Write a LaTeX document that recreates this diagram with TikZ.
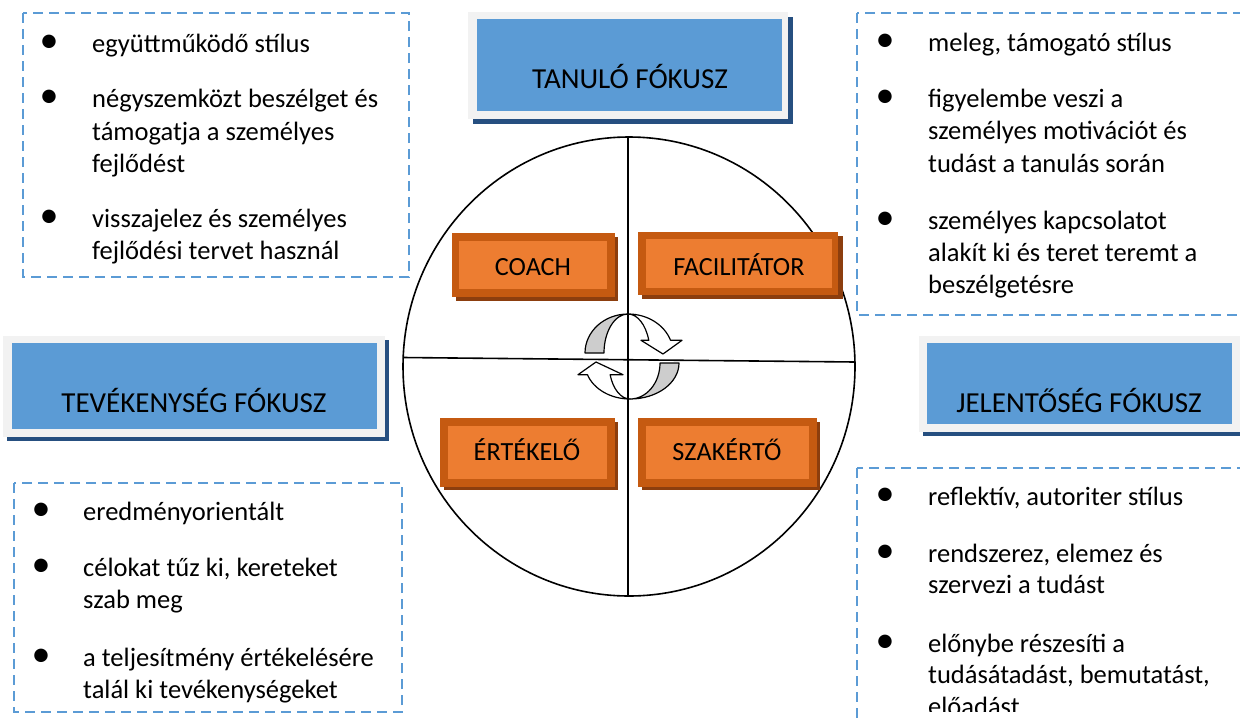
\documentclass[tikz,border=0pt]{standalone}
\usepackage{fontspec}
\setmainfont{Carlito}
\definecolor{bfill}{RGB}{91,155,213}
\definecolor{fgray}{RGB}{242,242,242}
\definecolor{bshadow}{RGB}{38,79,128}
\definecolor{oout}{RGB}{197,90,17}
\definecolor{oin}{RGB}{237,125,49}
\definecolor{oshadow}{RGB}{140,62,14}
\definecolor{dashblue}{RGB}{91,155,213}
\definecolor{agray}{RGB}{205,205,205}
\tikzset{
  dashbox/.style={draw=dashblue, line width=2pt, dash pattern=on 10pt off 6pt},
  txt/.style={anchor=base west, inner sep=0pt, font=\fontsize{26.5}{32}\selectfont},
  bul/.style={anchor=base, inner sep=0pt, font=\fontsize{38}{40}\selectfont},
  hdr/.style={anchor=base, inner sep=0pt, font=\fontsize{29}{35}\selectfont},
  lbl/.style={anchor=base, inner sep=0pt, font=\fontsize{26.2}{31}\selectfont},
  arrowpart/.style={draw=black, line width=1.2pt, line join=round},
  axisline/.style={draw=black, line width=1.6pt}
}
\begin{document}
\begin{tikzpicture}[x=1pt,y=-1pt]
\useasboundingbox (0,0) rectangle (1240,718);
\clip (0,0) rectangle (1240,718);

% circle and axes
\draw[axisline] (629,366.5) ellipse [x radius=226, y radius=229.5];
\coordinate (vtop) at (628,137);
\coordinate (vbot) at (628,596);
\coordinate (hleft) at (403,357.5);
\coordinate (hright) at (855,362);
\draw[axisline] (vtop) -- (vbot);
\draw[axisline] (hleft) -- (hright);

% dashed boxes
\draw[dashbox] (23,13) rectangle (409,277);
\draw[dashbox] (857,13) rectangle (1252,315);
\draw[dashbox] (14,483) rectangle (402,712);
\draw[dashbox] (857,468) rectangle (1252,740);

% top-left list
\node[bul] (b11) at (49,52) {•};
\node[txt] (t11) at (92,52) {együttműködő stílus};
\node[bul] (b12) at (49,107) {•};
\node[txt] (t12) at (92,107) {négyszemközt beszélget és};
\node[txt] (t13) at (92,140) {támogatja a személyes};
\node[txt] (t14) at (92,172) {fejlődést};
\node[bul] (b13) at (49,227) {•};
\node[txt] (t15) at (92,227) {visszajelez és személyes};
\node[txt] (t16) at (92,259) {fejlődési tervet használ};

% top-right list
\node[bul] (b21) at (885,51) {•};
\node[txt] (t21) at (928,51) {meleg, támogató stílus};
\node[bul] (b22) at (885,107) {•};
\node[txt] (t22) at (928,107) {figyelembe veszi a};
\node[txt] (t23) at (928,139) {személyes motivációt és};
\node[txt] (t24) at (928,172) {tudást a tanulás során};
\node[bul] (b23) at (885,229) {•};
\node[txt] (t25) at (928,229) {személyes kapcsolatot};
\node[txt] (t26) at (928,261) {alakít ki és teret teremt a};
\node[txt] (t27) at (928,293) {beszélgetésre};

% bottom-left list
\node[bul] (b31) at (41,520) {•};
\node[txt] (t31) at (83,520) {eredményorientált};
\node[bul] (b32) at (41,576) {•};
\node[txt] (t32) at (83,576) {célokat tűz ki, kereteket};
\node[txt] (t33) at (83,608) {szab meg};
\node[bul] (b33) at (41,666) {•};
\node[txt] (t34) at (83,666) {a teljesítmény értékelésére};
\node[txt] (t35) at (83,698) {talál ki tevékenységeket};

% bottom-right list
\node[bul] (b41) at (885,505) {•};
\node[txt] (t41) at (928,505) {reflektív, autoriter stílus};
\node[bul] (b42) at (885,562) {•};
\node[txt] (t42) at (928,562) {rendszerez, elemez és};
\node[txt] (t43) at (928,593) {szervezi a tudást};
\node[bul] (b43) at (885,652) {•};
\node[txt] (t44) at (928,652) {előnybe részesíti a};
\node[txt] (t45) at (928,683) {tudásátadást, bemutatást,};
\begin{scope}
\clip (860,690) rectangle (1240,711);
\node[txt] (t46) at (928,715) {előadást};
\end{scope}

% blue headers
\fill[bshadow] (473,17) rectangle (793,124);
\fill[fgray] (468,12) rectangle (788,119);
\fill[bfill] (477,19) rectangle (782,111);
\node[hdr] (h1) at (630,88) {TANULÓ FÓKUSZ};

\fill[bshadow] (7,340) rectangle (389,441);
\fill[fgray] (3,336) rectangle (385,437);
\fill[bfill] (12,343) rectangle (377,429);
\node[hdr] (h2) at (194,412) {TEVÉKENYSÉG FÓKUSZ};

\fill[bshadow] (923,340) rectangle (1256,436);
\fill[fgray] (919,336) rectangle (1250,432);
\fill[bfill] (927,343) rectangle (1232,424);
\node[hdr] (h3) at (1079,412) {JELENTŐSÉG FÓKUSZ};

% orange role boxes
\fill[oshadow] (456,237) rectangle (618,301);
\fill[oout] (452,233) rectangle (615,297);
\fill[oin] (459,241) rectangle (607,289);
\node[lbl] (r1) at (533,275) {COACH};

\fill[oshadow] (642,236) rectangle (843,299);
\fill[oout] (638,232) rectangle (838,295);
\fill[oin] (646,239) rectangle (832,288);
\node[lbl] (r2) at (739,275) {FACILITÁTOR};

\fill[oshadow] (444,422) rectangle (618,490);
\fill[oout] (440,418) rectangle (615,487);
\fill[oin] (448,426) rectangle (607,479);
\node[lbl] (r3) at (527,460) {ÉRTÉKELŐ};

\fill[oshadow] (642,422) rectangle (820,490);
\fill[oout] (638,418) rectangle (817,487);
\fill[oin] (646,426) rectangle (809,479);
\node[lbl] (r4) at (727,460) {SZAKÉRTŐ};

% cycle arrows (upper)
\draw[arrowpart, fill=agray] (585,353)
  arc[start angle=180, end angle=270, x radius=43, y radius=39]
  arc[start angle=270, end angle=180, x radius=24, y radius=39] -- cycle;
\draw[arrowpart, fill=white] (628,314)
  arc[start angle=270, end angle=341, x radius=45, y radius=39]
  -- (682,340.3) -- (663,354) -- (641,340.3) -- (648.8,340.3)
  arc[start angle=341, end angle=270, x radius=22, y radius=39] -- cycle;
% cycle arrows (lower)
\draw[arrowpart, fill=agray] (679,363)
  arc[start angle=0, end angle=90, x radius=49, y radius=36]
  arc[start angle=90, end angle=0, x radius=30, y radius=36] -- cycle;
\draw[arrowpart, fill=white] (630,399)
  arc[start angle=90, end angle=161, x radius=45, y radius=36]
  -- (578,374.7) -- (596,362) -- (623,374.7) -- (610.1,374.7)
  arc[start angle=161, end angle=90, x radius=21, y radius=36] -- cycle;
\end{tikzpicture}
\end{document}
